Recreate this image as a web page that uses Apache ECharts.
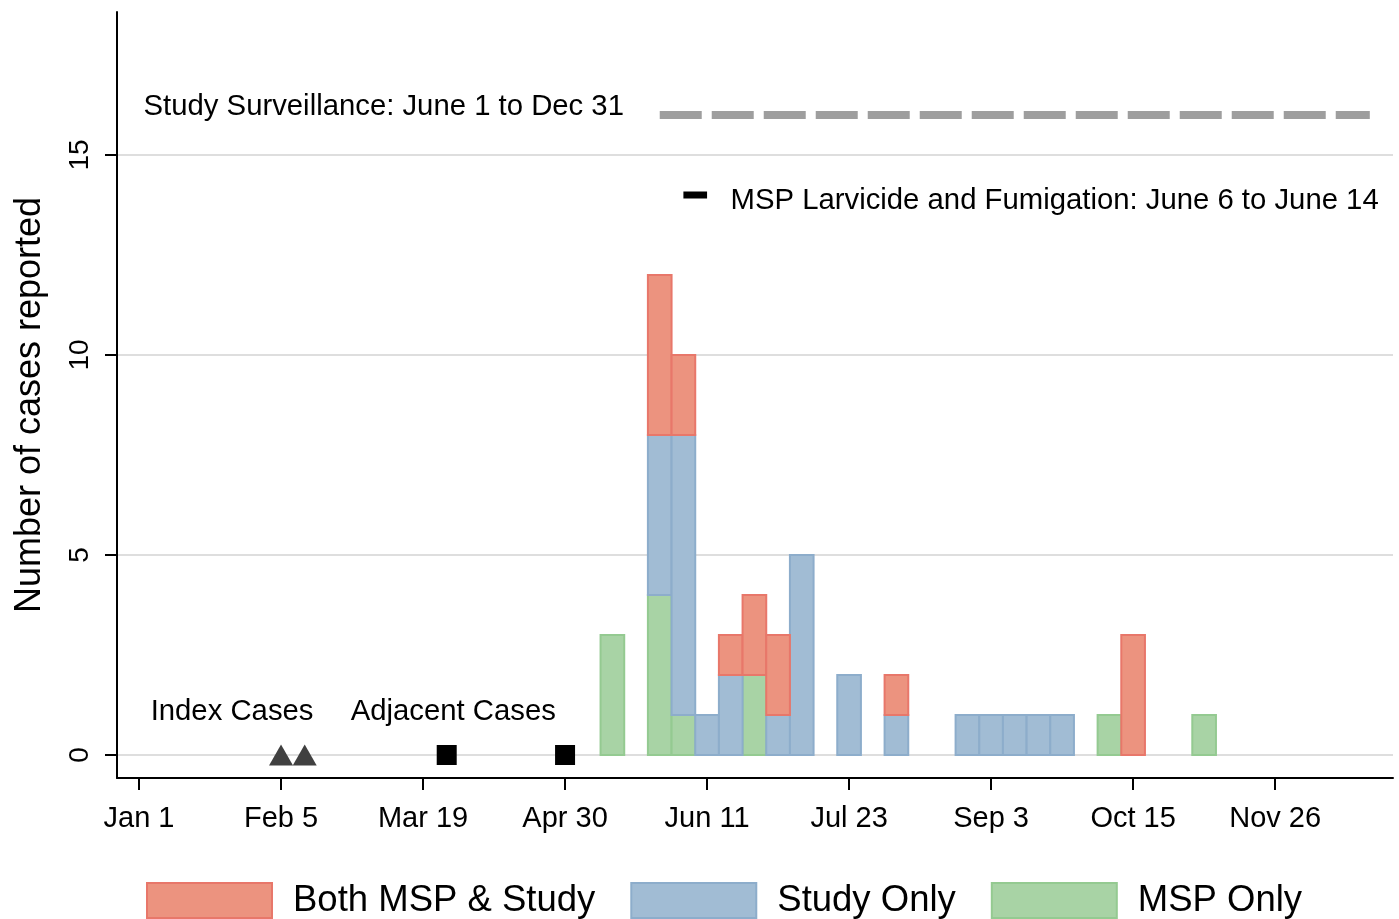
<!DOCTYPE html>
<html><head><meta charset="utf-8">
<script src="https://cdn.jsdelivr.net/npm/echarts@6/dist/echarts.min.js"></script>
<style>html,body{margin:0;padding:0;background:#fff}#c{width:1399px;height:919px}</style>
</head><body><div id="c"></div>
<script>
// ---- data ----
const weeks      = [20,22,23,24,25,26,27,28,30,32,35,36,37,38,39,41,42,45];
const mspOnly    = [ 3, 4, 1, 0, 0, 2, 0, 0, 0, 0, 0, 0, 0, 0, 0, 1, 0, 1];
const studyOnly  = [ 0, 4, 7, 1, 2, 0, 1, 5, 2, 1, 1, 1, 1, 1, 1, 0, 0, 0];
const bothMspStudy=[ 0, 4, 2, 0, 1, 2, 2, 0, 0, 1, 0, 0, 0, 0, 0, 0, 3, 0];
const seriesNames = ['Both MSP & Study','Study Only','MSP Only'];
const xTickWeeks  = [0,6,12,18,24,30,36,42,48];
const xTickLabels = ['Jan 1','Feb 5','Mar 19','Apr 30','Jun 11','Jul 23','Sep 3','Oct 15','Nov 26'];
const yTicks      = [0,5,10,15];
const indexCaseWeeks = [6,7];
const adjacentCaseWeeks = [13,18];
const surveillanceWeeks = [22,52];
const surveillanceLevel = 16;
const fumigationWeeks = [23,24];
const fumigationLevel = 14;
const annotationTexts = ['Study Surveillance: June 1 to Dec 31','MSP Larvicide and Fumigation: June 6 to June 14','Index Cases','Adjacent Cases'];
const annotationPos = [[0.17,16.2],[24.97,13.85],[0.47,1.075],[8.92,1.075]];

// ---- build stacked rows ----
const greenRows=[], blueRows=[], redRows=[];
weeks.forEach((w,i)=>{
  greenRows.push([w,0,mspOnly[i]]);
  blueRows.push([w,mspOnly[i],studyOnly[i]]);
  redRows.push([w,mspOnly[i]+studyOnly[i],bothMspStudy[i]]);
});
const FONT='"Liberation Sans", Arial, sans-serif';
function renderBar(fill, stroke){
  return function(params, api){
    const w=api.value(0), b=api.value(1), v=api.value(2);
    if(!v) return null;
    const p0=api.coord([w-0.5,b]), p1=api.coord([w+0.5,b+v]);
    return {type:'rect',shape:{x:p0[0],y:p1[1],width:p1[0]-p0[0],height:p0[1]-p1[1]},
      style:{fill:fill,stroke:stroke,lineWidth:2}};
  };
}
const colors = {red:['#EC937F','#E8776A'], blue:['#A1BCD4','#8DADCB'], green:['#A8D3A5','#94CA91']};

const chart = echarts.init(document.getElementById('c'), null, {renderer:'canvas'});
chart.setOption({
  animation:false,
  textStyle:{fontFamily:FONT},
  grid:{left:117,right:6,top:12,bottom:141,containLabel:false,outerBoundsMode:'none'},
  legend:{
    left:146, top:882, padding:0, itemWidth:125, itemHeight:35, itemGap:35, icon:'rect',
    data:seriesNames,
    textStyle:{fontSize:36.5,color:'#000',fontFamily:FONT,padding:[6,0,0,16]}
  },
  xAxis:{
    type:'value', min:-0.93, max:52.98,
    axisLine:{show:true,onZero:false,lineStyle:{color:'#000',width:2}},
    axisTick:{show:true,length:12,lineStyle:{color:'#000',width:2},customValues:xTickWeeks},
    axisLabel:{customValues:xTickWeeks,fontSize:29,color:'#000',margin:26,
      formatter:function(v){const i=xTickWeeks.indexOf(v);return i>=0?xTickLabels[i]:'';}},
    splitLine:{show:false}
  },
  yAxis:{
    type:'value', min:-0.575, max:18.575,
    name:'Number of cases reported', nameLocation:'middle', nameGap:69,
    nameTextStyle:{fontSize:36,color:'#000',fontFamily:FONT,padding:[0,20,0,0]},
    axisLine:{show:true,onZero:false,lineStyle:{color:'#000',width:2}},
    axisTick:{show:true,length:12,lineStyle:{color:'#000',width:2},customValues:yTicks},
    axisLabel:{customValues:yTicks,fontSize:28,color:'#000',margin:23,rotate:90},
    splitLine:{show:true,lineStyle:{color:'#dedede',width:2}}
  },
  series:[
    {name:'MSP Only',type:'custom',renderItem:renderBar(colors.green[0],colors.green[1]),
      data:greenRows, encode:{x:0,y:[1,2]}, z:3,
      itemStyle:{color:colors.green[0],borderColor:colors.green[1],borderWidth:2}},
    {name:'Study Only',type:'custom',renderItem:renderBar(colors.blue[0],colors.blue[1]),
      data:blueRows, encode:{x:0,y:[1,2]}, z:3,
      itemStyle:{color:colors.blue[0],borderColor:colors.blue[1],borderWidth:2}},
    {name:'Both MSP & Study',type:'custom',renderItem:renderBar(colors.red[0],colors.red[1]),
      data:redRows, encode:{x:0,y:[1,2]}, z:3,
      itemStyle:{color:colors.red[0],borderColor:colors.red[1],borderWidth:2}},
    {type:'line',symbol:'none',z:4,silent:true,
      data:surveillanceWeeks.map(w=>[w,surveillanceLevel]),
      lineStyle:{color:'#9E9E9E',width:8,type:[42,10],cap:'butt'}},
    {type:'line',symbol:'none',z:4,silent:true,
      data:fumigationWeeks.map(w=>[w,fumigationLevel]),
      lineStyle:{color:'#000',width:7,cap:'butt'}},
    {type:'scatter',symbol:'triangle',symbolSize:[24,21],z:5,
      itemStyle:{color:'#404040',opacity:1},data:indexCaseWeeks.map(w=>[w,0])},
    {type:'scatter',symbol:'rect',symbolSize:20,z:5,
      itemStyle:{color:'#000',opacity:1},data:adjacentCaseWeeks.map(w=>[w,0])},
    {type:'scatter',symbolSize:1,z:6,silent:true,itemStyle:{color:'rgba(0,0,0,0)',opacity:1},
      data:annotationTexts.map((t,i)=>({value:annotationPos[i],name:t})),
      label:{show:true,position:'right',distance:0,formatter:p=>p.name,
        fontSize:29.3,color:'#000',fontFamily:FONT,align:'left',verticalAlign:'middle'}}
  ]
});
</script></body></html>
